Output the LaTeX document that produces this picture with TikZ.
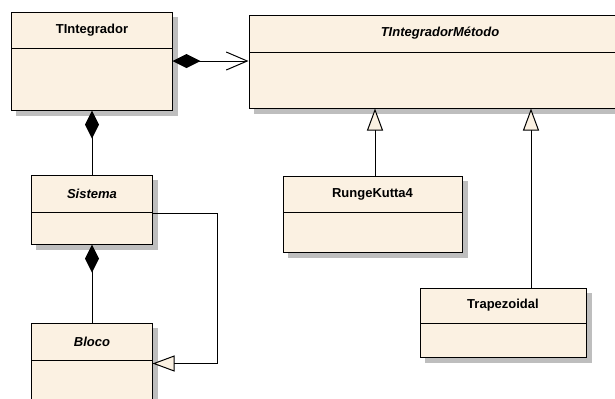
\documentclass[tikz,border=0pt]{standalone}
\usepackage{fontspec}
\setmainfont{Liberation Sans}
\usetikzlibrary{arrows.meta,backgrounds}
\definecolor{classfill}{RGB}{251,241,226}
\definecolor{shadowgray}{RGB}{190,190,190}
\begin{document}
\begin{tikzpicture}[x=1bp,y=-1bp,
  classbox/.style={draw=black, line width=1bp, fill=classfill, rectangle, inner sep=0pt},
  boxshadow/.style={fill=shadowgray},
  classname/.style={font=\fontsize{13bp}{15bp}\selectfont\bfseries, inner sep=0pt},
  abstractname/.style={classname, font=\fontsize{13bp}{15bp}\selectfont\bfseries\itshape},
  conn/.style={line width=1bp, draw=black},
  compos/.style={conn, {Diamond[length=28bp,width=14bp,fill=black]}-},
  composnav/.style={conn, {Diamond[length=28bp,width=14bp,fill=black]}-{Straight Barb[length=21bp,width=18bp,line width=1bp]}},
  gen/.style={conn, -{Triangle[length=22bp,width=16bp,fill=classfill,line width=1bp]}},
  divider/.style={line width=1bp}
]
\useasboundingbox (0,0) rectangle (615,398);
\clip (0,0) rectangle (615,398);

% classes
\node[classbox, minimum width=160bp, minimum height=98bp] (tint) at (92,61) {};
\draw[divider] (12,48) -- (172,48);
\node[classname] (tintname) at (92,30) {TIntegrador};

\node[classbox, minimum width=382bp, minimum height=93bp] (metodo) at (440,61.5) {};
\draw[divider] (249,52) -- (631,52);
\node[abstractname] (metodoname) at (440,33.5) {TIntegradorMétodo};

\node[classbox, minimum width=120bp, minimum height=69bp] (sistema) at (92,209.5) {};
\draw[divider] (32,212) -- (152,212);
\node[abstractname] (sistemaname) at (92,193.5) {Sistema};

\node[classbox, minimum width=120bp, minimum height=97bp] (bloco) at (92,371.5) {};
\draw[divider] (32,360) -- (152,360);
\node[abstractname] (bloconame) at (92,341.5) {Bloco};

\node[classbox, minimum width=179bp, minimum height=76bp] (runge) at (372.5,214) {};
\draw[divider] (283,212) -- (462,212);
\node[classname] (rungename) at (372.5,194) {RungeKutta4};

\node[classbox, minimum width=166bp, minimum height=69bp] (trap) at (503,322.5) {};
\draw[divider] (420,323) -- (586,323);
\node[classname] (trapname) at (503,305.5) {Trapezoidal};

% drop shadows behind the class boxes
\begin{scope}[on background layer]
  \foreach \c in {tint,metodo,sistema,bloco,runge,trap}
    \fill[boxshadow] ([shift={(5,5)}]\c.north west) rectangle ([shift={(5,5)}]\c.south east);
\end{scope}

% compositions
\draw[composnav] (tint.east) -- (metodo.west |- tint.east);
\draw[compos] (tint.south) -- (sistema.north);
\draw[compos] (sistema.south) -- (bloco.north);

% generalizations
\coordinate (sisout) at ([yshift=-3.5bp]sistema.east);
\coordinate (blocin) at ([yshift=-41bp]bloco.north east);
\coordinate (bend) at (217,213);
\draw[gen] (sisout) -| (bend |- blocin) -- (blocin);

\coordinate (rungetop) at ([xshift=2.5bp]runge.north);
\draw[gen] (rungetop) -- (rungetop |- metodo.south);
\coordinate (traptop) at ([xshift=28bp]trap.north);
\draw[gen] (traptop) -- (traptop |- metodo.south);
\end{tikzpicture}
\end{document}
